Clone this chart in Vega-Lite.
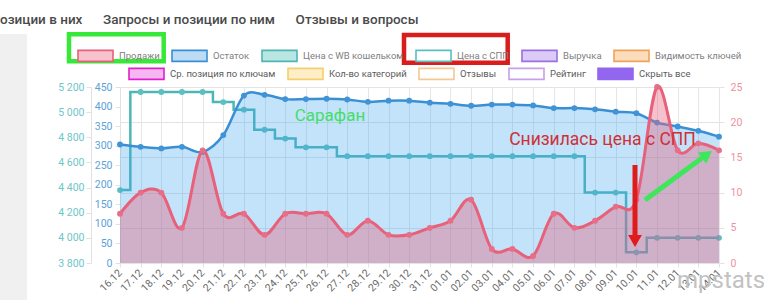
{
  "$schema": "https://vega.github.io/schema/vega-lite/v6.json",
  "width": 599,
  "height": 176,
  "autosize": {"type": "none"},
  "padding": {"left": 120, "top": 87, "right": 45, "bottom": 37},
  "background": "#ffffff",
  "title": {
    "text": "озиции в них\u2003\u2002Запросы и позиции по ним\u2003\u2002Отзывы и вопросы",
    "anchor": "start",
    "frame": "group",
    "dx": -120,
    "offset": 6,
    "font": "Roboto",
    "fontSize": 13.5,
    "fontWeight": 500,
    "color": "#4a4a4a"
  },
  "config": {
    "view": {"stroke": null},
    "font": "Roboto",
    "locale": {"number": {"decimal": ",", "thousands": " ", "grouping": [3], "currency": ["", ""]}},
    "axis": {"labelFont": "Roboto", "labelFontSize": 10.5},
    "legend": {"labelFont": "Roboto", "labelFontSize": 9.5, "padding": 0}
  },
  "datasets": {
    "series": [
      {"date": "2023-12-16", "sales": 7, "stock": 303, "price": 4380},
      {"date": "2023-12-17", "sales": 10, "stock": 297, "price": 5160},
      {"date": "2023-12-18", "sales": 10, "stock": 293, "price": 5160},
      {"date": "2023-12-19", "sales": 5, "stock": 297, "price": 5160},
      {"date": "2023-12-20", "sales": 16, "stock": 284, "price": 5160},
      {"date": "2023-12-21", "sales": 7, "stock": 327, "price": 5080},
      {"date": "2023-12-22", "sales": 7, "stock": 428, "price": 5020},
      {"date": "2023-12-23", "sales": 4, "stock": 430, "price": 4860},
      {"date": "2023-12-24", "sales": 7, "stock": 419, "price": 4790},
      {"date": "2023-12-25", "sales": 7, "stock": 419, "price": 4720},
      {"date": "2023-12-26", "sales": 7, "stock": 420, "price": 4720},
      {"date": "2023-12-27", "sales": 4, "stock": 418, "price": 4650},
      {"date": "2023-12-28", "sales": 6, "stock": 412, "price": 4650},
      {"date": "2023-12-29", "sales": 4, "stock": 415, "price": 4650},
      {"date": "2023-12-30", "sales": 4, "stock": 415, "price": 4650},
      {"date": "2023-12-31", "sales": 5, "stock": 410, "price": 4650},
      {"date": "2024-01-01", "sales": 6, "stock": 407, "price": 4650},
      {"date": "2024-01-02", "sales": 9, "stock": 402, "price": 4650},
      {"date": "2024-01-03", "sales": 2, "stock": 405, "price": 4650},
      {"date": "2024-01-04", "sales": 2, "stock": 405, "price": 4650},
      {"date": "2024-01-05", "sales": 1, "stock": 403, "price": 4650},
      {"date": "2024-01-06", "sales": 7, "stock": 396, "price": 4650},
      {"date": "2024-01-07", "sales": 5, "stock": 396, "price": 4650},
      {"date": "2024-01-08", "sales": 6, "stock": 393, "price": 4360},
      {"date": "2024-01-09", "sales": 8, "stock": 387, "price": 4360},
      {"date": "2024-01-10", "sales": 9, "stock": 383, "price": 3885},
      {"date": "2024-01-11", "sales": 25, "stock": 359, "price": 4000},
      {"date": "2024-01-12", "sales": 16, "stock": 349, "price": 4000},
      {"date": "2024-01-13", "sales": 17, "stock": 338, "price": 4000},
      {"date": "2024-01-14", "sales": 16, "stock": 323, "price": 4000}
    ],
    "notes": [
      {"kind": "strip", "date": "2023-12-10T04:34:00Z", "date2": "2023-12-11T11:56:00Z", "sales": 32.53, "sales2": -5.26},
      {"kind": "greenbox", "date": "2023-12-13T12:45:00Z", "date2": "2023-12-18T02:47:00Z", "sales": 32.49, "sales2": 28.65},
      {"kind": "redbox", "date": "2023-12-29T18:00:00Z", "date2": "2024-01-03T18:29:00Z", "sales": 32.39, "sales2": 28.45},
      {"kind": "greentext", "date": "2023-12-26T04:00:00Z", "sales": 20.92, "label": "Сарафан"},
      {"kind": "redtext", "date": "2024-01-08T08:38:00Z", "sales": 17.47, "label": "Снизилась цена с СПП"},
      {"kind": "redarrow", "date": "2024-01-09T22:24:00Z", "sales": 13.92, "sales2": 3.9},
      {"kind": "redhead", "date": "2024-01-09T22:24:00Z", "sales": 3.125},
      {"kind": "greenarrow", "date": "2024-01-10T10:00:00Z", "date2": "2024-01-13T06:34:00Z", "sales": 8.95, "sales2": 15.13},
      {"kind": "greenhead", "date": "2024-01-13T10:03:00Z", "sales": 15.41},
      {"kind": "watermark", "date": "2024-01-11T23:13:00Z", "sales": -3.55, "label": "mpstats"}
    ]
  },
  "encoding": {
    "x": {
      "field": "date",
      "type": "temporal",
      "scale": {
        "type": "utc",
        "nice": false,
        "domain": [
          {"year": 2023, "month": 12, "date": 16, "utc": true},
          {"year": 2024, "month": 1, "date": 14, "utc": true}
        ]
      },
      "axis": {
        "title": null,
        "labelExpr": "utcFormat(datum.value, '%d.%m')",
        "tickCount": {"interval": "day", "step": 1},
        "labelAngle": -45,
        "labelAlign": "right",
        "labelBaseline": "middle",
        "labelOverlap": false,
        "labelFlush": false,
        "labelBound": false,
        "labelColor": "#6a6a6a",
        "labelFontSize": 10.5,
        "labelPadding": 4,
        "tickSize": 4,
        "tickColor": "#e2e2e2",
        "domain": false,
        "grid": true,
        "gridColor": "#e6e6e6"
      }
    }
  },
  "layer": [
    {
      "data": {"name": "series"},
      "encoding": {
        "y": {
          "field": "price",
          "type": "quantitative",
          "scale": {"domain": [3800, 5200], "nice": false, "zero": false},
          "axis": {
            "orient": "left",
            "offset": 29,
            "title": null,
            "values": [3800, 4000, 4200, 4400, 4600, 4800, 5000, 5200],
            "format": ",d",
            "labelColor": "#6ec6c8",
            "tickSize": 5,
            "tickColor": "#e2e2e2",
            "domainColor": "#e2e2e2",
            "labelPadding": 2,
            "grid": false
          }
        }
      },
      "layer": [
        {"mark": {"type": "line", "interpolate": "step", "color": "#4fb6b8", "strokeWidth": 2.5}},
        {"mark": {"type": "point", "filled": true, "size": 34, "opacity": 1, "color": "#5cbfc0"}}
      ]
    },
    {
      "data": {"name": "series"},
      "encoding": {
        "y": {
          "field": "stock",
          "type": "quantitative",
          "scale": {"domain": [0, 450], "nice": false},
          "axis": {
            "orient": "left",
            "offset": 0,
            "title": null,
            "values": [0, 50, 100, 150, 200, 250, 300, 350, 400, 450],
            "labelColor": "#5ba2d8",
            "tickSize": 5,
            "tickColor": "#e2e2e2",
            "domainColor": "#e2e2e2",
            "labelPadding": 3,
            "grid": false
          }
        }
      },
      "layer": [
        {"mark": {"type": "area", "interpolate": "cardinal", "color": "#36a2eb", "opacity": 0.3}},
        {"mark": {"type": "line", "interpolate": "cardinal", "color": "#3a8fd4", "strokeWidth": 2.5}},
        {"mark": {"type": "point", "filled": true, "size": 34, "opacity": 1, "color": "#3f93d6"}}
      ]
    },
    {
      "encoding": {
        "y": {
          "field": "sales",
          "type": "quantitative",
          "scale": {"domain": [0, 25], "nice": false},
          "axis": {
            "orient": "right",
            "title": null,
            "values": [0, 5, 10, 15, 20, 25],
            "labelColor": "#f0909f",
            "grid": true,
            "gridColor": "#e4e4e4",
            "domain": false,
            "tickSize": 5,
            "tickColor": "#e4e4e4",
            "labelPadding": 6
          }
        }
      },
      "resolve": {"scale": {"fill": "independent", "stroke": "independent"}},
      "layer": [
        {"data": {"name": "series"}, "mark": {"type": "area", "interpolate": "cardinal", "color": "#e4647f", "opacity": 0.4}},
        {"data": {"name": "series"}, "mark": {"type": "line", "interpolate": "cardinal", "color": "#e8607a", "strokeWidth": 3}},
        {"data": {"name": "series"}, "mark": {"type": "point", "filled": true, "size": 34, "opacity": 1, "color": "#e86d86"}},
        {
          "data": {"name": "notes"},
          "transform": [{"filter": "datum.kind === 'strip'"}],
          "mark": {"type": "rect", "color": "#f0f0f0"},
          "encoding": {"x2": {"field": "date2"}, "y2": {"field": "sales2"}}
        },
        {
          "data": {"name": "notes"},
          "transform": [{"filter": "datum.kind === 'greenbox'"}],
          "mark": {"type": "rect", "filled": false, "color": "#38e838", "strokeWidth": 4.5},
          "encoding": {"x2": {"field": "date2"}, "y2": {"field": "sales2"}}
        },
        {
          "data": {"name": "notes"},
          "transform": [{"filter": "datum.kind === 'redbox'"}],
          "mark": {"type": "rect", "filled": false, "color": "#d91c1c", "strokeWidth": 4.5},
          "encoding": {"x2": {"field": "date2"}, "y2": {"field": "sales2"}}
        },
        {
          "data": {"name": "notes"},
          "transform": [{"filter": "datum.kind === 'greentext'"}],
          "mark": {"type": "text", "color": "#45dd6a", "fontSize": 17, "font": "Roboto", "align": "center", "baseline": "middle"},
          "encoding": {"text": {"field": "label"}}
        },
        {
          "data": {"name": "notes"},
          "transform": [{"filter": "datum.kind === 'redtext'"}],
          "mark": {"type": "text", "color": "#cf3038", "fontSize": 17.5, "font": "Roboto", "align": "center", "baseline": "middle"},
          "encoding": {"text": {"field": "label"}}
        },
        {
          "data": {"name": "notes"},
          "transform": [{"filter": "datum.kind === 'redarrow'"}],
          "mark": {"type": "rule", "color": "#e01b1b", "strokeWidth": 5},
          "encoding": {"y2": {"field": "sales2"}}
        },
        {
          "data": {"name": "notes"},
          "transform": [{"filter": "datum.kind === 'redhead'"}],
          "mark": {"type": "point", "shape": "triangle-down", "filled": true, "opacity": 1, "size": 190, "color": "#e01b1b"}
        },
        {
          "data": {"name": "notes"},
          "transform": [{"filter": "datum.kind === 'greenarrow'"}],
          "mark": {"type": "rule", "color": "#3ee65a", "strokeWidth": 5},
          "encoding": {"x2": {"field": "date2"}, "y2": {"field": "sales2"}}
        },
        {
          "data": {"name": "notes"},
          "transform": [{"filter": "datum.kind === 'greenhead'"}],
          "mark": {"type": "point", "shape": "triangle-up", "angle": 53.6, "filled": true, "opacity": 1, "size": 200, "color": "#3ee65a"}
        },
        {
          "data": {"name": "notes"},
          "transform": [{"filter": "datum.kind === 'watermark'"}],
          "mark": {"type": "text", "color": "#c2c2c2", "fontSize": 24, "font": "Roboto", "align": "left", "baseline": "alphabetic"},
          "encoding": {"text": {"field": "label"}}
        },
        {
          "data": {"name": "series"},
          "transform": [{"filter": "false"}],
          "mark": {"type": "point", "filled": true, "opacity": 1, "strokeWidth": 1.6},
          "encoding": {
            "fill": {
              "field": "legendTop",
              "type": "nominal",
              "scale": {
                "domain": ["Продажи", "Остаток", "Цена с WB кошельком", "Цена с СПП", "Выручка", "Видимость ключей"],
                "range": ["#f7c3cd", "#bcdcf5", "#b9e5e3", "#ffffff", "#dccbf6", "#fcdcbb"]
              },
              "legend": {
                "orient": "none",
                "legendX": -43,
                "legendY": -50,
                "direction": "horizontal",
                "title": null,
                "symbolType": "M-1,-0.3143H1V0.3143H-1Z",
                "symbolSize": 1225,
                "symbolStrokeWidth": 1.6,
                "labelOffset": 5,
                "columnPadding": 8,
                "labelColor": "#808080"
              }
            },
            "stroke": {
              "field": "legendTop",
              "type": "nominal",
              "scale": {
                "domain": ["Продажи", "Остаток", "Цена с WB кошельком", "Цена с СПП", "Выручка", "Видимость ключей"],
                "range": ["#e8607a", "#3a8fd4", "#4fb6b3", "#5bbfbf", "#9c6fe0", "#eda45a"]
              },
              "legend": {
                "orient": "none",
                "legendX": -43,
                "legendY": -50,
                "direction": "horizontal",
                "title": null,
                "symbolType": "M-1,-0.3143H1V0.3143H-1Z",
                "symbolSize": 1225,
                "symbolStrokeWidth": 1.6,
                "labelOffset": 5,
                "columnPadding": 8,
                "labelColor": "#808080"
              }
            }
          }
        },
        {
          "data": {"name": "series"},
          "transform": [{"filter": "false"}],
          "mark": {"type": "point", "filled": true, "opacity": 1, "strokeWidth": 1.6},
          "encoding": {
            "fill": {
              "field": "legendBottom",
              "type": "nominal",
              "scale": {
                "domain": ["Ср. позиция по ключам", "Кол-во категорий", "Отзывы", "Рейтинг", "Скрыть все"],
                "range": ["#f6b6f0", "#fdeec8", "#ffffff", "#ffffff", "#9266ee"]
              },
              "legend": {
                "orient": "none",
                "legendX": 8,
                "legendY": -32,
                "direction": "horizontal",
                "title": null,
                "symbolType": "M-1,-0.3143H1V0.3143H-1Z",
                "symbolSize": 1225,
                "symbolStrokeWidth": 1.6,
                "labelOffset": 5,
                "columnPadding": 8,
                "labelColor": "#5c5c5c"
              }
            },
            "stroke": {
              "field": "legendBottom",
              "type": "nominal",
              "scale": {
                "domain": ["Ср. позиция по ключам", "Кол-во категорий", "Отзывы", "Рейтинг", "Скрыть все"],
                "range": ["#e020d0", "#f5cf6e", "#f3c894", "#c99fe6", "#9266ee"]
              },
              "legend": {
                "orient": "none",
                "legendX": 8,
                "legendY": -32,
                "direction": "horizontal",
                "title": null,
                "symbolType": "M-1,-0.3143H1V0.3143H-1Z",
                "symbolSize": 1225,
                "symbolStrokeWidth": 1.6,
                "labelOffset": 5,
                "columnPadding": 8,
                "labelColor": "#5c5c5c"
              }
            }
          }
        }
      ]
    }
  ],
  "resolve": {"scale": {"y": "independent"}}
}
